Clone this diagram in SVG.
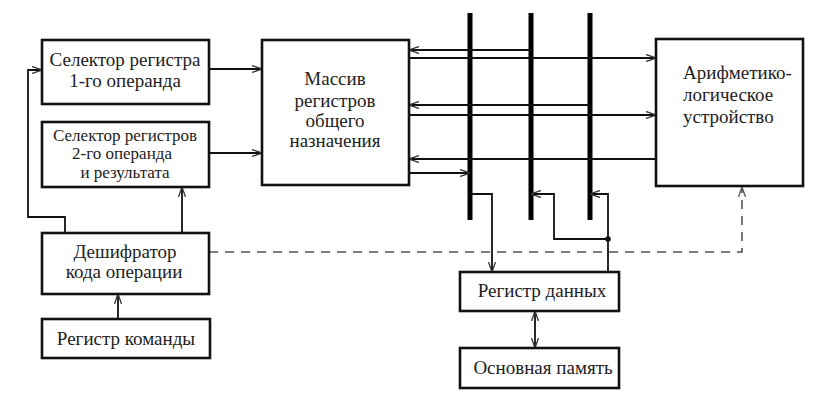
<svg xmlns="http://www.w3.org/2000/svg" width="818" height="401" viewBox="0 0 818 401">
<style>
.box{fill:#fff;stroke:#111;stroke-width:2.6}
.t{font-family:"Liberation Serif","DejaVu Serif",serif;font-size:19px;fill:#222}
.s{font-size:17px}
.c{text-anchor:middle}
.ln{fill:none;stroke:#111;stroke-width:1.8}
.bus{stroke:#000;stroke-width:5}
.dash{fill:none;stroke:#555;stroke-width:1.6;stroke-dasharray:9 7}
</style>
<defs>
<marker id="a" viewBox="0 0 10 8" refX="10" refY="4" markerWidth="10" markerHeight="8" markerUnits="userSpaceOnUse" orient="auto-start-reverse">
<path d="M0,0.5 L10,4 L0,7.5" fill="none" stroke="#333" stroke-width="1.3"/>
</marker>
<marker id="ad" viewBox="0 0 10 8" refX="10" refY="4" markerWidth="10" markerHeight="8" markerUnits="userSpaceOnUse" orient="auto">
<path d="M0,0.5 L10,4 L0,7.5" fill="none" stroke="#555" stroke-width="1.3"/>
</marker>
</defs>
<rect width="818" height="401" fill="#fff"/>

<g id="connectors">
<line class="bus" x1="470" y1="13" x2="470" y2="220"/>
<line class="bus" x1="531" y1="13" x2="531" y2="220"/>
<line class="bus" x1="590" y1="13" x2="590" y2="220"/>
<line class="ln" x1="209" y1="69" x2="262" y2="69" marker-end="url(#a)"/>
<line class="ln" x1="209" y1="153" x2="262" y2="153" marker-end="url(#a)"/>
<polyline class="ln" points="65,233 65,217 28,217 28,70 42,70" marker-end="url(#a)"/>
<line class="ln" x1="182" y1="233" x2="182" y2="187" marker-end="url(#a)"/>
<line class="ln" x1="118" y1="319" x2="118" y2="294" marker-end="url(#a)"/>
<line class="ln" x1="531" y1="50" x2="409" y2="50" marker-end="url(#a)"/>
<line class="ln" x1="409" y1="58" x2="656" y2="58" marker-end="url(#a)"/>
<line class="ln" x1="590" y1="105" x2="409" y2="105" marker-end="url(#a)"/>
<line class="ln" x1="409" y1="115" x2="656" y2="115" marker-end="url(#a)"/>
<line class="ln" x1="656" y1="159" x2="409" y2="159" marker-end="url(#a)"/>
<line class="ln" x1="409" y1="173" x2="470" y2="173" marker-end="url(#a)"/>
<polyline class="ln" points="470,194 492,194 492,272" marker-end="url(#a)"/>
<polyline class="ln" points="608,239 554,239 554,194 531,194" marker-end="url(#a)"/>
<polyline class="ln" points="608,272 608,194 590,194" marker-end="url(#a)"/>
<circle cx="608" cy="239" r="2.8" fill="#111"/>
<line class="ln" x1="535" y1="311" x2="535" y2="348" marker-start="url(#a)" marker-end="url(#a)"/>
<polyline class="dash" points="209,252 742,252 742,187" marker-end="url(#ad)"/>
</g>

<g id="sel1">
<rect class="box" x="42" y="40" width="167" height="64"/>
<text class="t c" x="125" y="66">Селектор регистра</text>
<text class="t c" x="125" y="87">1-го операнда</text>
</g>
<g id="sel2">
<rect class="box" x="42" y="122" width="167" height="65"/>
<text class="t s c" x="125" y="140.5">Селектор регистров</text>
<text class="t s c" x="122" y="159">2-го операнда</text>
<text class="t s c" x="125" y="177.5">и результата</text>
</g>
<g id="regs">
<rect class="box" x="262" y="40" width="147" height="145"/>
<text class="t c" x="335" y="85">Массив</text>
<text class="t c" x="335" y="107">регистров</text>
<text class="t c" x="335" y="127">общего</text>
<text class="t c" x="335" y="147">назначения</text>
</g>
<g id="alu">
<rect class="box" x="656" y="39" width="147" height="147"/>
<text class="t" x="683" y="79">Арифметико-</text>
<text class="t" x="683" y="101">логическое</text>
<text class="t" x="683" y="123">устройство</text>
</g>
<g id="decoder">
<rect class="box" x="42" y="233" width="167" height="61"/>
<text class="t c" x="125" y="258">Дешифратор</text>
<text class="t c" x="124" y="278">кода операции</text>
</g>
<g id="ir">
<rect class="box" x="42" y="319" width="168" height="39"/>
<text class="t c" x="126" y="345">Регистр команды</text>
</g>
<g id="dr">
<rect class="box" x="460" y="272" width="159" height="39"/>
<text class="t c" x="542" y="297">Регистр данных</text>
</g>
<g id="mem">
<rect class="box" x="460" y="348" width="159" height="40"/>
<text class="t c" x="543" y="374">Основная память</text>
</g>
</svg>
